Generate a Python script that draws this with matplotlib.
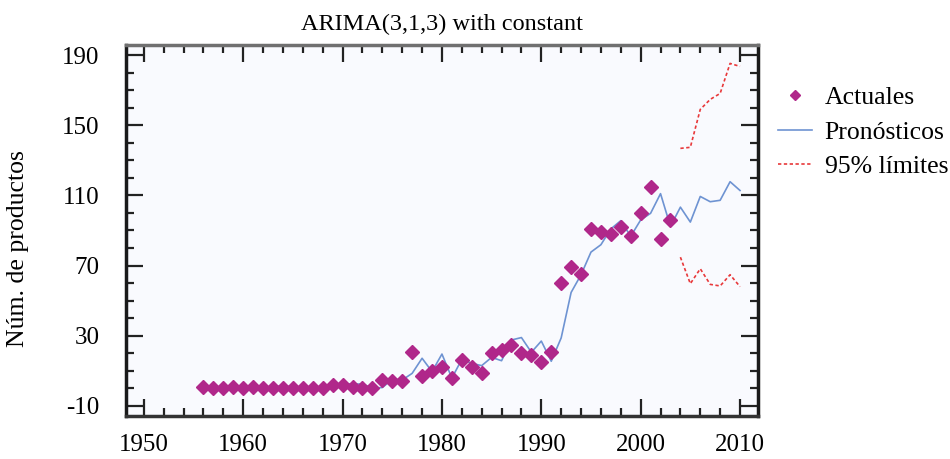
import matplotlib
matplotlib.use("Agg")
import matplotlib.pyplot as plt
from matplotlib.ticker import MultipleLocator
from matplotlib.lines import Line2D

plt.rcParams['font.family'] = ['Liberation Serif', 'DejaVu Serif']
plt.rcParams['axes.unicode_minus'] = False

# ---- data ----
actual_years = list(range(1956, 2004))
actual_values = [1, 0, 0, 1, 0, 1, 0, 0, 0, 0, 0, 0,
                 0, 2, 2, 1, 0, 0, 5, 4, 4, 21, 7, 10,
                 12, 6, 16, 12, 9, 20, 22, 25, 20, 19, 15, 21,
                 60, 69, 65, 91, 89, 88, 92, 87, 100, 115, 85, 96]

forecast_years = list(range(1957, 2011))
forecast_values = [0.5, 0.3, 0.8, 0.5, 1.3, 0.6, 0.5, 1.8, 0.6, 1.2, 0.5,
                   0.6, 1.5, 2.6, 2.6, 2.5, 0.2, 0.5, 5.2, 4.8, 8.6, 17.2,
                   9.6, 19.6, 5.9, 16.6, 14.3, 13.0, 17.7, 15.8, 27.6, 29.0,
                   20.6, 27.0, 15.5, 28.8, 54.7, 64.8, 77.7, 81.9, 90.9, 95.6,
                   86.7, 96.0, 99.8, 111.0, 92.3, 103.3, 94.8, 109.4, 106.4,
                   107.2, 117.8, 112.8]

limit_years = list(range(2004, 2011))
upper_limit = [136.8, 137.4, 159.0, 164.7, 168.1, 185.2, 183.5]
lower_limit = [74.8, 59.7, 68.2, 59.3, 58.4, 64.8, 58.0]

title = "ARIMA(3,1,3) with constant"
ylabel = "Núm. de productos"
legend_labels = ["Actuales", "Pronósticos", "95% límites"]

# ---- style ----
c_act = "#B0278A"
c_fc = "#6E93D2"
c_lim = "#E8383A"

fig = plt.figure(figsize=(9.5, 4.59), dpi=100)
ax = fig.add_axes([126/950, 1-416/459, (757.5-126)/950, (416-45)/459])
ax.set_facecolor("#F9FAFE")

ax.plot(forecast_years, forecast_values, color=c_fc, lw=1.2, zorder=2)
ax.plot(limit_years, upper_limit, color=c_lim, lw=1.2, ls=(0, (2, 1.5)), zorder=2)
ax.plot(limit_years, lower_limit, color=c_lim, lw=1.2, ls=(0, (2, 1.5)), zorder=2)
ax.plot(actual_years, actual_values, ls='none', marker='D', ms=6.8,
        color=c_act, mec=c_act, zorder=3)

ax.set_xlim(1948.2, 2011.76)
ax.set_ylim(-15.7, 195.7)
ax.xaxis.set_major_locator(MultipleLocator(10))
ax.xaxis.set_minor_locator(MultipleLocator(2))
ax.set_yticks([-10, 30, 70, 110, 150, 190])
ax.yaxis.set_minor_locator(MultipleLocator(10))

ax.tick_params(which='both', direction='in', top=True, right=True,
               labelsize=18, colors='#222222', labelcolor='black')
ax.tick_params(which='major', length=12, width=1.6)
ax.tick_params(which='minor', length=6, width=1.6)
ax.tick_params(axis='x', pad=13)
ax.tick_params(axis='y', pad=19)

for s in ['left', 'right', 'bottom']:
    ax.spines[s].set_linewidth(2.5)
    ax.spines[s].set_color('#1a1a1a')
ax.spines['bottom'].set_color('#333333')
ax.spines['top'].set_linewidth(2.5)
ax.spines['top'].set_color('#707070')

ax.set_title(title, fontsize=17.5, pad=11)
fig.text(18/950, 1-249/459, ylabel, fontsize=18.5, rotation=90,
         ha='center', va='center')

handles = [
    Line2D([], [], ls='none', marker='D', ms=5.5, color=c_act),
    Line2D([], [], color=c_fc, lw=1.2),
    Line2D([], [], color=c_lim, lw=1.2, ls=(0, (2, 1.5))),
]
fig.legend(handles, legend_labels, loc='upper left',
           bbox_to_anchor=(768/950, 1-76/459), frameon=False,
           fontsize=18.5, handlelength=1.3, handletextpad=0.5,
           labelspacing=0.44, borderpad=0.4, borderaxespad=0)

fig.savefig("out.png", dpi=100)
